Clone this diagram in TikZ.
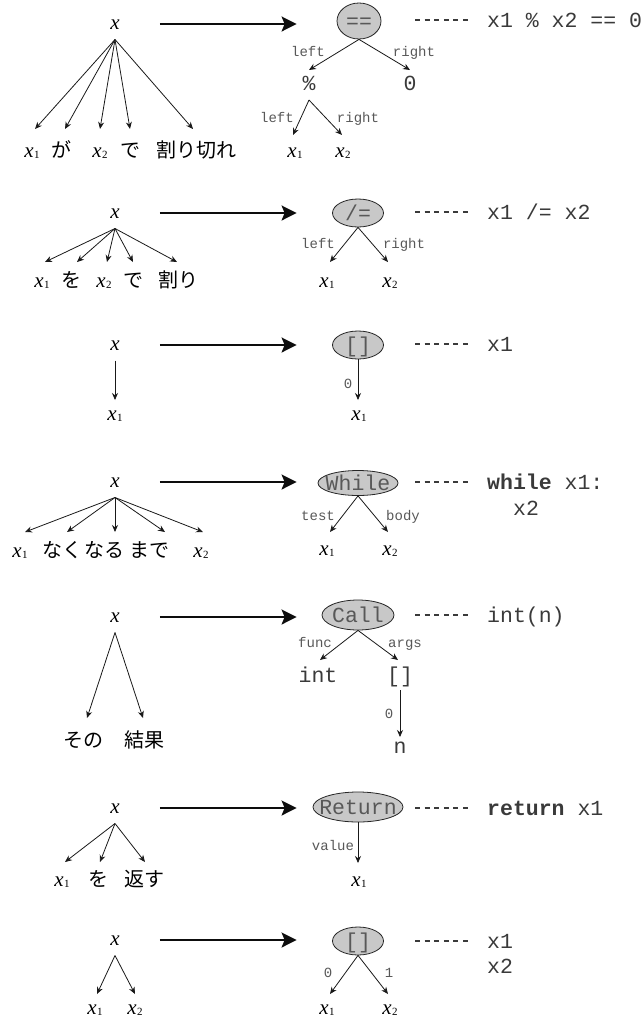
\documentclass[tikz,border=0pt]{standalone}
\usepackage{fontspec}
\setmainfont{Liberation Serif}
\setmonofont{Liberation Mono}
\newfontfamily\jpfont{Noto Sans CJK JP}
\usetikzlibrary{arrows.meta,shapes.geometric}
\definecolor{ellfill}{HTML}{C8C8C8}
\definecolor{codecol}{HTML}{3A3A3A}
\definecolor{labcol}{HTML}{585858}
\newcommand\xv[1]{\textit{x}\kern0.3pt\raisebox{-1.5pt}{\fontsize{11}{11}\selectfont #1}}
\tikzset{
  var/.style={inner sep=0pt, font=\fontsize{21}{21}\selectfont, text height=15pt, text depth=5pt, anchor=base},
  word/.style={inner sep=0pt, font=\jpfont\fontsize{20}{20}\selectfont, text height=15pt, text depth=5pt, anchor=base},
  mono/.style={inner sep=0pt, font=\ttfamily\fontsize{21.5}{21.5}\selectfont, text=codecol, text height=15pt, text depth=5pt, anchor=base},
  code/.style={inner sep=0pt, font=\ttfamily\fontsize{21.5}{21.5}\selectfont, text=codecol, text height=15pt, text depth=0pt, anchor=west},
  ell/.style={ellipse, draw=black!85, line width=0.8pt, fill=ellfill, inner sep=0pt},
  elltext/.style={inner sep=0pt, font=\ttfamily\fontsize{21.5}{21.5}\selectfont, text=labcol, text height=15pt, text depth=0pt},
  lab/.style={inner sep=0pt, font=\ttfamily\fontsize{14}{14}\selectfont, text=labcol, text height=10pt, text depth=0pt},
  edge/.style={line width=0.8pt, draw=black!90, -{Stealth[length=7pt,width=6pt]}},
  big/.style={line width=2pt, draw=black!95, -{Stealth[length=15pt,width=15pt,inset=3pt]}},
  dots/.style={line width=1.3pt, dash pattern=on 5pt off 4.6pt, draw=codecol},
}
\begin{document}
\begin{tikzpicture}[x=1pt,y=-1pt]
\useasboundingbox (0,0) rectangle (641,1018);

% ===================== Row 1 =====================
\node[var] (p1) at (115,29) {\textit{x}};
\node[var]  (a11) at (32,157) {\xv1};
\node[word] (a12) at (61,157) {が};
\node[var]  (a13) at (100,157) {\xv2};
\node[word] (a14) at (130,157) {で};
\node[word] (a15) at (196,157) {割り切れ};
\draw[edge] ([yshift=-10.5pt]p1.base) -- ([xshift=3pt,yshift=28pt]a11.base);
\draw[edge] ([yshift=-10.5pt]p1.base) -- ([xshift=4pt,yshift=28pt]a12.base);
\draw[edge] ([yshift=-10.5pt]p1.base) -- ([yshift=28pt]a13.base);
\draw[edge] ([yshift=-10.5pt]p1.base) -- ([yshift=28pt]a14.base);
\draw[edge] ([yshift=-10.5pt]p1.base) -- ([xshift=-3pt,yshift=28pt]a15.base);

\node[ell, minimum width=44pt, minimum height=36pt] (e1) at (359,21) {};
\node[elltext] (e1t) at (e1) {==};
\draw[big] ([xshift=40pt]p1.east) -- ([xshift=-40pt]e1.west |- p1.east);
\node[code] (k1) at (487,20) {x1 \% x2 == 0};
\draw[dots] ([xshift=-72pt]k1.west) -- ([xshift=-19pt]k1.west);

\node[mono] (pct) at (309,90) {\%};
\node[mono] (zero) at (410,90) {0};
\draw[edge] (e1.south) -- ([yshift=20pt]pct.base);
\draw[edge] (e1.south) -- ([yshift=20pt]zero.base);
\node[lab] (l11) at (308,51) {left};
\node[lab] (l12) at (414,51) {right};

\node[var] (m1) at (295,157) {\xv1};
\node[var] (m2) at (343,157) {\xv2};
\draw[edge] ([yshift=-10pt]pct.base) -- ([xshift=-2pt,yshift=22pt]m1.base);
\draw[edge] ([yshift=-10pt]pct.base) -- ([xshift=-1pt,yshift=22pt]m2.base);
\node[lab] (l13) at (277,117) {left};
\node[lab] (l14) at (358,117) {right};

% ===================== Row 2 =====================
\node[var] (p2) at (115,218) {\textit{x}};
\node[var]  (a21) at (42,287) {\xv1};
\node[word] (a22) at (71,287) {を};
\node[var]  (a23) at (104,287) {\xv2};
\node[word] (a24) at (133,287) {で};
\node[word] (a25) at (178,287) {割り};
\draw[edge] ([yshift=-10.5pt]p2.base) -- ([xshift=3pt,yshift=25pt]a21.base);
\draw[edge] ([yshift=-10.5pt]p2.base) -- ([xshift=6pt,yshift=25pt]a22.base);
\draw[edge] ([yshift=-10.5pt]p2.base) -- ([xshift=3pt,yshift=25pt]a23.base);
\draw[edge] ([yshift=-10.5pt]p2.base) -- ([yshift=25pt]a24.base);
\draw[edge] ([yshift=-10.5pt]p2.base) -- ([xshift=-1pt,yshift=25pt]a25.base);

\node[ell, minimum width=51pt, minimum height=28pt] (e2) at (358,213) {};
\node[elltext] (e2t) at (e2) {/=};
\draw[big] ([xshift=40pt]p2.east) -- ([xshift=-35.5pt]e2.west |- p2.east);
\node[code] (k2) at (487,212) {x1 /= x2};
\draw[dots] ([xshift=-72pt]k2.west) -- ([xshift=-19pt]k2.west);

\node[var] (r21) at (327,287) {\xv1};
\node[var] (r22) at (390,287) {\xv2};
\draw[edge] (e2.south) -- ([xshift=3pt,yshift=25pt]r21.base);
\draw[edge] (e2.south) -- ([xshift=-2pt,yshift=25pt]r22.base);
\node[lab] (l21) at (318,243) {left};
\node[lab] (l22) at (404,243) {right};

% ===================== Row 3 =====================
\node[var] (p3) at (115,350) {\textit{x}};
\node[var] (a31) at (115,420) {\xv1};
\draw[edge] ([yshift=-10.5pt]p3.base) -- ([yshift=20pt]a31.base);

\node[ell, minimum width=51pt, minimum height=28pt] (e3) at (358,345) {};
\node[elltext] (e3t) at (e3) {[]};
\draw[big] ([xshift=40pt]p3.east) -- ([xshift=-35.5pt]e3.west |- p3.east);
\node[code] (k3) at (487,344) {x1};
\draw[dots] ([xshift=-72pt]k3.west) -- ([xshift=-19pt]k3.west);

\node[var] (r31) at (359,420) {\xv1};
\draw[edge] (e3.south) -- ([xshift=-1pt,yshift=20pt]r31.base);
\node[lab] (l31) at (348,383) {0};

% ===================== Row 4 =====================
\node[var] (p4) at (115,487) {\textit{x}};
\node[var]  (a41) at (20,557) {\xv1};
\node[word] (a42) at (62,557) {なく};
\node[word] (a43) at (104,557) {なる};
\node[word] (a44) at (149,557) {まで};
\node[var]  (a45) at (201,557) {\xv2};
\draw[edge] ([yshift=-10.5pt]p4.base) -- ([xshift=5pt,yshift=25pt]a41.base);
\draw[edge] ([yshift=-10.5pt]p4.base) -- ([xshift=5pt,yshift=25pt]a42.base);
\draw[edge] ([yshift=-10.5pt]p4.base) -- ([xshift=11pt,yshift=25pt]a43.base);
\draw[edge] ([yshift=-10.5pt]p4.base) -- ([xshift=16pt,yshift=25pt]a44.base);
\draw[edge] ([yshift=-10.5pt]p4.base) -- ([xshift=2pt,yshift=25pt]a45.base);

\node[ell, minimum width=80pt, minimum height=25pt] (e4) at (358,483) {};
\node[elltext] (e4t) at (e4) {While};
\draw[big] ([xshift=40pt]p4.east) -- ([xshift=-21pt]e4.west |- p4.east);
\node[code] (k4) at (487,482) {\textbf{while} x1:};
\node[code] (k4b) at (513,508) {x2};
\draw[dots] ([xshift=-72pt]k4.west) -- ([xshift=-19pt]k4.west);

\node[var] (r41) at (327,555) {\xv1};
\node[var] (r42) at (390,555) {\xv2};
\draw[edge] (e4.south) -- ([xshift=3pt,yshift=23pt]r41.base);
\draw[edge] (e4.south) -- ([xshift=-2pt,yshift=23pt]r42.base);
\node[lab] (l41) at (318,515) {test};
\node[lab] (l42) at (403,515) {body};

% ===================== Row 5 =====================
\node[var] (p5) at (115,622) {\textit{x}};
\node[word] (a51) at (83,747) {その};
\node[word] (a52) at (144,747) {結果};
\draw[edge] ([yshift=-10.5pt]p5.base) -- ([xshift=4pt,yshift=29pt]a51.base);
\draw[edge] ([yshift=-10.5pt]p5.base) -- ([xshift=-1pt,yshift=29pt]a52.base);

\node[ell, minimum width=72pt, minimum height=30pt] (e5) at (358,615) {};
\node[elltext] (e5t) at (e5) {Call};
\draw[big] ([xshift=40pt]p5.east) -- ([xshift=-25pt]e5.west |- p5.east);
\node[code] (k5) at (487,615) {int(n)};
\draw[dots] ([xshift=-72pt]k5.west) -- ([xshift=-19pt]k5.west);

\node[mono] (r51) at (318,682) {int};
\node[mono] (r52) at (400,682) {[]};
\draw[edge] (e5.south) -- ([xshift=2pt,yshift=22pt]r51.base);
\draw[edge] (e5.south) -- ([xshift=-2pt,yshift=22pt]r52.base);
\node[lab] (l51) at (315,642) {func};
\node[lab] (l52) at (405,642) {args};
\node[mono] (r53) at (400,753) {n};
\draw[edge] ([yshift=-8pt]r52.base) -- ([yshift=16pt]r53.base);
\node[lab] (l53) at (389,713) {0};

% ===================== Row 6 =====================
\node[var] (p6) at (115,813) {\textit{x}};
\node[var]  (a61) at (62,886) {\xv1};
\node[word] (a62) at (98,886) {を};
\node[word] (a63) at (144,886) {返す};
\draw[edge] ([yshift=-10.5pt]p6.base) -- ([xshift=3pt,yshift=24pt]a61.base);
\draw[edge] ([yshift=-10.5pt]p6.base) -- ([xshift=2pt,yshift=24pt]a62.base);
\draw[edge] ([yshift=-10.5pt]p6.base) -- ([xshift=1pt,yshift=24pt]a63.base);

\node[ell, minimum width=90pt, minimum height=30pt] (e6) at (358,807) {};
\node[elltext] (e6t) at (e6) {Return};
\draw[big] ([xshift=40pt]p6.east) -- ([xshift=-16pt]e6.west |- p6.east);
\node[code] (k6) at (487,808) {\textbf{return} x1};
\draw[dots] ([xshift=-72pt]k6.west) -- ([xshift=-19pt]k6.west);

\node[var] (r61) at (359,886) {\xv1};
\draw[edge] (e6.south) -- ([xshift=-1pt,yshift=23pt]r61.base);
\node[lab] (l61) at (333,845) {value};

% ===================== Row 7 =====================
\node[var] (p7) at (115,945) {\textit{x}};
\node[var] (a71) at (95,1014) {\xv1};
\node[var] (a72) at (135,1014) {\xv2};
\draw[edge] ([yshift=-10.5pt]p7.base) -- ([xshift=2pt,yshift=20pt]a71.base);
\draw[edge] ([yshift=-10.5pt]p7.base) -- ([yshift=20pt]a72.base);

\node[ell, minimum width=51pt, minimum height=28pt] (e7) at (358,941) {};
\node[elltext] (e7t) at (e7) {[]};
\draw[big] ([xshift=40pt]p7.east) -- ([xshift=-35.5pt]e7.west |- p7.east);
\node[code] (k7) at (487,941) {x1};
\node[code] (k7b) at (487,966) {x2};
\draw[dots] ([xshift=-72pt]k7.west) -- ([xshift=-19pt]k7.west);

\node[var] (r71) at (327,1014) {\xv1};
\node[var] (r72) at (390,1014) {\xv2};
\draw[edge] (e7.south) -- ([xshift=3pt,yshift=20pt]r71.base);
\draw[edge] (e7.south) -- ([xshift=-2pt,yshift=20pt]r72.base);
\node[lab] (l71) at (328,972) {0};
\node[lab] (l72) at (389,972) {1};
\end{tikzpicture}
\end{document}
